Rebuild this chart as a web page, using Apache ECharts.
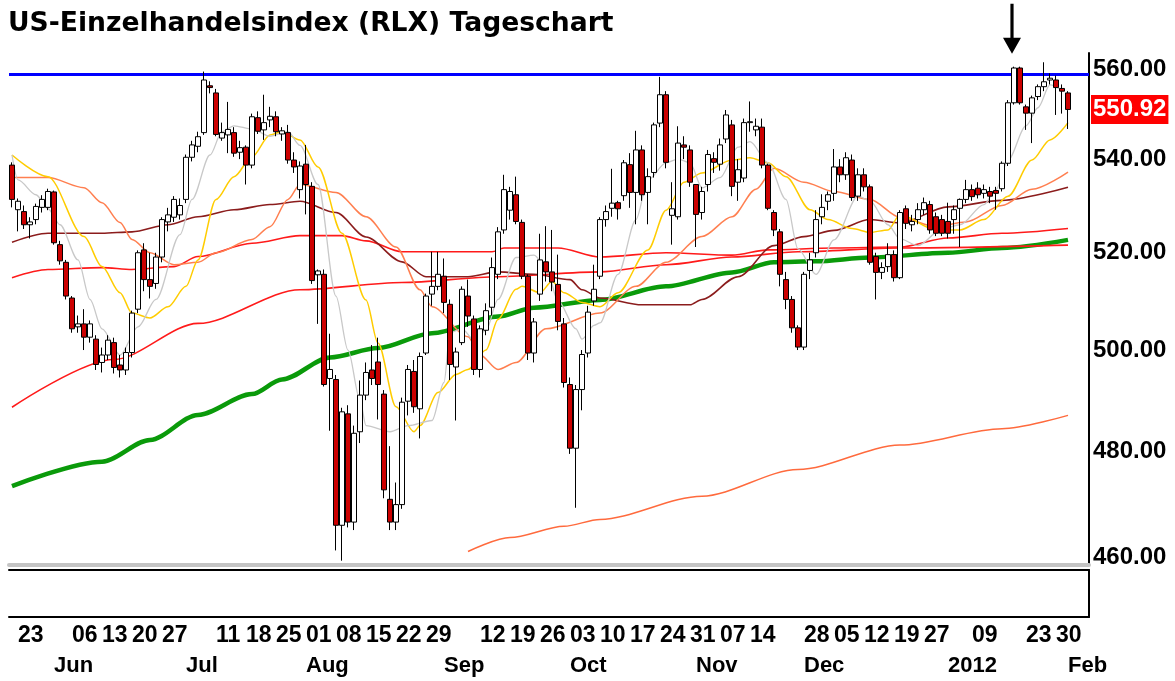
<!DOCTYPE html>
<html>
<head>
<meta charset="utf-8">
<script src="https://cdn.jsdelivr.net/npm/echarts@6/dist/echarts.min.js"></script>
<style>html,body{margin:0;padding:0;background:#fff;}#chart{width:1175px;height:681px;}</style>
</head>
<body>
<div id="chart"></div>
<script>
// ---- trading days (categories) ----
const dates = [
'2011-05-20','2011-05-23','2011-05-24','2011-05-25','2011-05-26','2011-05-27','2011-05-31',
'2011-06-01','2011-06-02','2011-06-03','2011-06-06','2011-06-07','2011-06-08','2011-06-09','2011-06-10','2011-06-13','2011-06-14','2011-06-15','2011-06-16','2011-06-17','2011-06-20','2011-06-21','2011-06-22','2011-06-23','2011-06-24','2011-06-27','2011-06-28','2011-06-29','2011-06-30',
'2011-07-01','2011-07-05','2011-07-06','2011-07-07','2011-07-08','2011-07-11','2011-07-12','2011-07-13','2011-07-14','2011-07-15','2011-07-18','2011-07-19','2011-07-20','2011-07-21','2011-07-22','2011-07-25','2011-07-26','2011-07-27','2011-07-28','2011-07-29',
'2011-08-01','2011-08-02','2011-08-03','2011-08-04','2011-08-05','2011-08-08','2011-08-09','2011-08-10','2011-08-11','2011-08-12','2011-08-15','2011-08-16','2011-08-17','2011-08-18','2011-08-19','2011-08-22','2011-08-23','2011-08-24','2011-08-25','2011-08-26','2011-08-29','2011-08-30','2011-08-31',
'2011-09-01','2011-09-02','2011-09-06','2011-09-07','2011-09-08','2011-09-09','2011-09-12','2011-09-13','2011-09-14','2011-09-15','2011-09-16','2011-09-19','2011-09-20','2011-09-21','2011-09-22','2011-09-23','2011-09-26','2011-09-27','2011-09-28','2011-09-29','2011-09-30',
'2011-10-03','2011-10-04','2011-10-05','2011-10-06','2011-10-07','2011-10-10','2011-10-11','2011-10-12','2011-10-13','2011-10-14','2011-10-17','2011-10-18','2011-10-19','2011-10-20','2011-10-21','2011-10-24','2011-10-25','2011-10-26','2011-10-27','2011-10-28','2011-10-31',
'2011-11-01','2011-11-02','2011-11-03','2011-11-04','2011-11-07','2011-11-08','2011-11-09','2011-11-10','2011-11-11','2011-11-14','2011-11-15','2011-11-16','2011-11-17','2011-11-18','2011-11-21','2011-11-22','2011-11-23','2011-11-25','2011-11-28','2011-11-29','2011-11-30',
'2011-12-01','2011-12-02','2011-12-05','2011-12-06','2011-12-07','2011-12-08','2011-12-09','2011-12-12','2011-12-13','2011-12-14','2011-12-15','2011-12-16','2011-12-19','2011-12-20','2011-12-21','2011-12-22','2011-12-23','2011-12-27','2011-12-28','2011-12-29','2011-12-30',
'2012-01-03','2012-01-04','2012-01-05','2012-01-06','2012-01-09','2012-01-10','2012-01-11','2012-01-12','2012-01-13','2012-01-17','2012-01-18','2012-01-19','2012-01-20','2012-01-23','2012-01-24','2012-01-25','2012-01-26','2012-01-27','2012-01-30','2012-01-31',
'2012-02-01'
];
const padCategories = ['pad1','pad2','pad3'];

// ---- OHLC ----
const opens = [538.7,529.1,528.7,525.9,527.0,529.6,529.6,532.9,521.7,518.0,510.6,504.7,505.3,502.6,502.2,497.5,499.0,501.5,497.0,496.0,
499.5,508.3,520.6,514.4,513.6,519.1,526.5,527.5,528.0,531.3,540.4,542.8,545.8,556.2,554.6,544.6,545.3,545.8,541.5,542.6,
538.7,549.1,546.4,548.6,549.3,545.5,545.8,539.8,533.4,538.9,534.1,515.4,515.5,494.3,494.1,465.9,487.3,466.5,483.8,491.0,
496.0,497.6,491.2,470.8,466.5,469.8,489.8,495.7,488.3,499.4,511.4,513.0,515.1,509.3,496.6,501.5,511.0,506.3,496.1,504.0,
508.7,515.5,524.8,529.0,532.3,526.4,515.1,499.4,511.4,518.1,516.0,513.4,505.3,493.1,480.6,492.1,499.4,510.0,515.1,527.0,
529.4,530.6,532.1,538.8,532.8,542.0,532.8,537.1,547.9,554.2,527.9,527.6,543.1,542.0,534.5,528.5,534.5,540.1,538.9,544.4,
547.5,535.0,535.9,548.0,546.4,547.0,538.7,528.5,524.4,514.4,510.3,504.5,500.6,516.3,520.0,527.6,530.9,532.6,538.3,536.6,
539.8,532.0,536.6,534.0,519.2,515.9,517.1,519.6,514.8,529.3,525.9,527.0,529.1,530.2,527.6,527.0,526.6,527.0,529.4,531.3,
533.4,533.7,532.6,533.0,533.2,533.6,539.1,552.4,560.2,551.5,550.1,553.8,556.0,557.5,557.5,555.6,554.6];
const closes = [531.3,530.9,525.9,526.5,529.8,531.3,533.0,522.1,518.3,511.0,504.3,505.3,502.6,505.3,497.1,499.0,502.0,496.5,496.0,499.5,
507.5,520.0,514.4,513.0,519.1,527.0,528.0,531.3,530.0,540.4,543.1,544.9,557.5,555.8,545.4,545.8,546.5,541.3,542.5,538.7,
549.3,546.1,548.0,549.4,546.0,546.2,539.8,538.3,538.5,534.5,514.2,516.2,493.1,496.1,465.9,487.7,466.5,483.5,491.0,495.5,
494.3,493.1,472.6,466.5,469.8,489.6,496.1,488.7,498.7,511.0,513.0,515.5,509.7,497.1,499.6,512.4,506.9,496.1,504.3,508.0,
516.9,524.4,533.4,533.0,526.6,515.1,499.4,505.7,518.5,516.0,513.9,505.8,493.5,480.6,492.1,499.1,507.7,512.4,527.0,528.7,
530.5,529.3,539.2,532.8,542.0,532.3,536.2,547.5,554.2,539.3,529.3,543.5,542.6,535.0,528.1,533.0,541.0,539.3,543.1,549.7,
534.1,537.7,548.0,548.2,547.2,538.7,529.4,524.8,515.5,510.3,504.5,500.6,515.5,518.5,527.0,529.6,532.3,538.3,536.6,540.3,
531.7,536.6,534.0,518.0,515.9,516.9,519.6,514.8,528.5,526.2,526.6,529.1,530.6,524.8,524.1,524.1,524.1,529.1,531.3,533.4,
531.9,532.3,533.4,532.0,532.6,539.1,552.4,560.2,552.4,550.1,553.5,556.0,557.1,557.9,555.8,555.0,550.92];
const lows = [529.6,524.5,525.0,523.0,526.0,528.5,529.0,521.7,517.5,510.3,503.5,503.5,500.0,501.5,496.0,495.5,498.0,495.3,494.5,495.0,
498.5,507.5,512.0,510.5,512.5,518.0,524.5,526.5,527.0,530.5,539.5,541.5,545.3,554.5,545.0,544.0,541.3,540.5,540.0,534.5,
538.0,545.5,544.2,547.0,545.0,544.0,539.0,537.0,531.5,528.1,513.5,505.3,492.7,484.0,461.2,459.3,465.5,465.0,481.6,490.0,
493.0,486.2,471.0,465.0,465.0,469.0,487.0,487.5,482.5,499.0,509.0,512.2,507.5,494.0,486.0,501.0,504.7,495.0,494.5,503.0,
507.0,514.5,524.0,527.0,526.0,514.5,498.0,497.5,510.0,514.0,512.0,504.0,492.5,479.5,469.2,488.0,498.5,509.0,514.5,525.5,
527.6,527.0,531.0,529.5,526.0,531.0,526.0,536.0,547.0,538.0,521.7,527.0,540.0,534.0,521.2,527.0,533.0,537.0,537.5,543.5,
532.0,531.0,535.0,546.0,545.0,538.0,529.0,523.5,513.0,508.3,503.5,500.0,500.0,514.5,519.0,526.0,529.0,531.0,535.0,535.5,
531.0,531.0,533.0,517.5,510.3,514.5,516.0,514.0,514.5,525.0,524.5,526.0,528.0,524.0,523.5,523.5,523.0,524.0,521.2,530.5,
531.0,531.5,531.5,530.5,529.1,533.0,538.5,552.0,552.0,546.4,543.5,553.0,555.0,556.5,549.7,550.0,546.6];
const highs = [539.3,531.5,530.0,527.5,530.4,532.2,533.6,533.2,522.5,518.5,511.0,507.0,508.3,506.0,503.0,500.5,503.0,502.5,499.0,500.5,
508.0,520.5,522.0,520.0,520.0,527.5,529.5,532.0,531.5,541.0,544.0,546.0,559.4,557.2,555.5,548.0,552.6,547.0,544.0,543.0,
550.0,550.5,554.2,551.5,550.5,547.0,547.5,541.5,539.5,543.1,535.0,516.5,516.5,503.3,495.0,488.5,489.0,485.0,493.9,497.5,
501.0,502.5,492.0,481.0,474.0,490.5,497.0,498.0,499.5,511.5,520.2,520.2,518.8,510.3,500.5,513.0,514.4,507.0,505.0,509.5,
519.0,525.4,536.6,534.0,536.2,527.0,515.5,506.5,524.0,525.6,524.8,519.6,506.5,494.5,493.0,500.0,509.0,517.5,527.5,530.0,
537.9,531.0,539.8,541.3,546.2,543.0,538.0,548.0,558.2,555.0,535.0,547.2,545.0,543.0,534.5,534.0,542.0,541.5,544.5,550.8,
548.6,540.0,548.9,552.7,548.9,548.9,539.0,529.0,525.0,516.0,511.0,505.0,516.0,520.0,529.0,532.4,533.0,542.2,540.0,541.5,
541.0,538.0,538.0,534.5,520.0,518.0,522.0,520.5,529.0,530.0,528.0,530.5,531.7,531.0,528.5,528.0,530.6,530.0,531.5,535.5,
534.5,535.0,534.5,534.0,534.0,539.5,553.0,560.5,560.5,552.0,554.0,556.5,561.5,559.0,558.5,556.5,555.0];

// ---- moving averages: [dayIndex, value] ----
const maGrey = [[0,540.9],[1,535.5],[4,532.3],[6,529.3],[8,525.9],[11,518.5],[13,510.3],[15,504.3],[18,499.0],[21,504.7],[24,510.3],[28,523.8],[30,531.3],[33,540.9],[35,546.0],[37,547.3],[40,546.6],[43,545.0],[46,546.0],[48,543.0],[51,534.5],[54,511.0],[56,500.0],[58,490.0],[59,485.0],[63,483.8],[66,485.0],[70,486.0],[72,493.5],[73,503.5],[75,504.3],[77,502.0],[79,504.0],[81,510.3],[84,519.0],[87,519.5],[89,517.0],[91,510.0],[94,504.3],[95,502.2],[97,505.0],[98,505.5],[101,515.5],[104,527.0],[106,535.5],[109,539.2],[111,540.0],[113,539.2],[115,533.8],[118,536.0],[121,542.6],[123,543.8],[126,539.2],[129,531.3],[131,520.8],[134,515.5],[137,522.7],[141,532.0],[143,531.0],[146,525.9],[148,522.9],[151,521.5],[155,525.0],[158,525.9],[162,530.2],[164,533.4],[166,539.8],[169,547.3],[171,551.3],[173,556.4],[175,555.2]];
const maYellow = [[0,540.9],[6,536.2],[12,523.4],[15,517.1],[18,511.7],[20,507.5],[23,506.5],[26,508.8],[29,513.0],[31,518.5],[34,531.3],[37,536.2],[40,540.5],[43,545.3],[45,546.0],[48,544.2],[51,538.3],[55,524.1],[59,510.2],[61,501.4],[64,488.7],[67,483.8],[68,485.0],[71,491.5],[74,495.1],[76,496.1],[79,500.0],[81,506.2],[84,512.4],[85,513.0],[88,511.7],[90,514.0],[92,511.7],[95,509.7],[98,508.8],[101,511.7],[106,520.6],[109,529.0],[112,535.0],[115,537.0],[120,539.8],[123,540.3],[126,539.2],[129,536.2],[133,529.1],[136,527.0],[140,525.1],[143,524.3],[146,524.8],[148,528.0],[154,524.8],[158,524.8],[162,527.0],[166,532.0],[170,539.8],[173,544.2],[176,548.0]];
const maOrange = [[0,536.0],[6,536.0],[12,533.8],[15,530.6],[18,526.4],[20,522.8],[23,520.0],[27,517.5],[31,518.0],[34,520.0],[40,522.8],[43,525.5],[46,531.3],[48,534.5],[54,532.8],[59,527.6],[64,521.2],[68,512.3],[70,508.8],[76,502.7],[78,499.0],[81,496.1],[84,497.5],[89,504.3],[98,507.5],[104,513.0],[109,518.0],[115,523.4],[120,527.6],[124,533.5],[127,538.0],[132,535.0],[137,533.0],[143,531.3],[148,527.5],[154,525.5],[159,526.5],[165,530.0],[170,533.5],[176,537.2]];
const maBrown = [[0,522.2],[6,524.1],[15,524.1],[20,524.4],[26,525.9],[31,527.6],[37,529.1],[43,530.2],[48,530.9],[54,528.5],[59,523.3],[65,518.1],[69,515.0],[76,515.0],[81,516.0],[87,515.5],[93,514.4],[95,512.3],[98,510.6],[105,509.2],[113,509.2],[115,510.3],[121,515.0],[127,521.5],[132,523.4],[137,524.7],[143,527.0],[148,526.3],[156,529.7],[165,531.1],[176,533.9]];
const maRedUpper = [[0,514.8],[6,516.5],[15,516.9],[20,516.5],[27,517.1],[31,519.2],[40,522.0],[48,523.6],[55,523.6],[59,522.5],[65,520.2],[80,520.2],[82,521.0],[91,521.0],[98,519.1],[109,520.0],[120,519.5],[126,520.6],[137,521.0],[148,521.2],[156,523.1],[165,524.1],[176,525.1]];
const maRedLower = [[0,488.6],[17,498.1],[31,505.4],[48,512.3],[65,513.8],[81,515.0],[98,516.0],[109,517.5],[120,519.1],[131,520.2],[148,521.0],[176,521.6]];
const maGreen = [[0,473.3],[15,478.0],[23,482.2],[31,487.1],[40,491.2],[45,494.1],[53,498.5],[61,500.4],[70,503.4],[81,506.8],[87,508.6],[98,510.2],[109,513.0],[120,515.9],[127,518.0],[134,518.2],[143,519.0],[156,520.0],[165,521.0],[176,522.7]];
const maLong = [[76,461.0],[83,463.6],[92,465.7],[98,467.0],[115,471.4],[131,476.5],[148,481.2],[165,484.4],[176,487.0]];

// ---- levels / labels ----
const resistance = 558.8;
const lastPrice = 550.92;
const arrowDay = 167;
const yTickValues = [560, 540, 520, 500, 480, 460];
const dayLabelDates = ['2011-05-23','2011-06-06','2011-06-13','2011-06-20','2011-06-27','2011-07-11','2011-07-18','2011-07-25',
'2011-08-01','2011-08-08','2011-08-15','2011-08-22','2011-08-29','2011-09-12','2011-09-19','2011-09-26','2011-10-03','2011-10-10',
'2011-10-17','2011-10-24','2011-10-31','2011-11-07','2011-11-14','2011-11-28','2011-12-05','2011-12-12','2011-12-19','2011-12-27',
'2012-01-09','2012-01-23','2012-01-30'];
const monthLabelDates = ['2011-06-01','2011-07-01','2011-08-01','2011-09-01','2011-10-03','2011-11-01','2011-11-28','2012-01-03','2012-02-01'];
const monthLabelTexts = ['Jun','Jul','Aug','Sep','Oct','Nov','Dec','2012','Feb'];

const categories = dates.concat(padCategories);
const candleData = dates.map((d, i) => [opens[i], closes[i], lows[i], highs[i]]);

const chart = echarts.init(document.getElementById('chart'), null, {renderer: 'canvas'});
const labelFont = {fontFamily: 'Liberation Sans', fontWeight: 'bold', color: '#000'};
const hiddenLine = {color: 'rgba(0,0,0,0)', width: 0, opacity: 1};
function maSeries(name, data, color, width) {
  return {name, type: 'line', data, xAxisIndex: 0, yAxisIndex: 0, symbol: 'none', silent: true,
    smooth: 0.3, smoothMonotone: 'x', lineStyle: {color, width}, z: 2};
}
const option = {
  animation: false,
  backgroundColor: '#fff',
  title: {text: 'US-Einzelhandelsindex (RLX) Tageschart', left: 8, top: 11, padding: 0,
    textStyle: {fontFamily: 'DejaVu Sans', fontWeight: 'bold', fontSize: 26.6, color: '#000'}},
  grid: [
    {left: 9, right: 86, top: 53, bottom: 116},
    {left: 9, right: 86, top: 570, bottom: 64}
  ],
  xAxis: [
    {type: 'category', gridIndex: 0, data: categories, boundaryGap: true,
      axisLine: {show: true, onZero: false, lineStyle: {color: '#c4c4c4', width: 4}},
      axisTick: {show: false}, axisLabel: {show: false}, splitLine: {show: false}},
    {type: 'category', gridIndex: 1, data: categories, boundaryGap: true, position: 'bottom',
      axisLine: {show: true, onZero: false, lineStyle: {color: '#000', width: 2}},
      axisTick: {show: false},
      axisLabel: Object.assign({show: true, fontSize: 23, align: 'left', margin: 7,
        interval: (idx, val) => dayLabelDates.indexOf(val) >= 0,
        formatter: v => v.slice(8)}, labelFont)},
    {type: 'category', gridIndex: 1, data: categories, boundaryGap: true, position: 'bottom', offset: 30,
      axisLine: {show: false}, axisTick: {show: false},
      axisLabel: Object.assign({show: true, fontSize: 22, align: 'left', margin: 8,
        interval: (idx, val) => monthLabelDates.indexOf(val) >= 0,
        formatter: v => { const k = monthLabelDates.indexOf(v); return k >= 0 ? monthLabelTexts[k] : ''; }}, labelFont)},
    {type: 'category', gridIndex: 1, data: categories, boundaryGap: true, position: 'top',
      axisLine: {show: true, onZero: false, lineStyle: {color: '#000', width: 2}},
      axisTick: {show: false}, axisLabel: {show: false}}
  ],
  yAxis: [
    {type: 'log', logBase: 10, gridIndex: 0, min: 458.5, max: 563.6, position: 'right',
      axisLine: {show: true, onZero: false, lineStyle: {color: '#000', width: 2}},
      axisTick: {show: false}, axisLabel: {show: false}, splitLine: {show: false}},
    {type: 'value', gridIndex: 1, position: 'right', min: 0, max: 1,
      axisLine: {show: true, onZero: false, lineStyle: {color: '#000', width: 2}},
      axisTick: {show: false}, axisLabel: {show: false}, splitLine: {show: false}}
  ],
  series: [
    maSeries('MA long', maLong, '#ff6a3d', 1.5),
    maSeries('MA green', maGreen, '#0a9a0a', 4.5),
    maSeries('MA red lower', maRedLower, '#ff1a1a', 1.6),
    maSeries('MA red upper', maRedUpper, '#ff1a1a', 1.6),
    maSeries('MA brown', maBrown, '#8b1c1c', 1.6),
    maSeries('MA orange', maOrange, '#ff7f50', 1.5),
    maSeries('MA yellow', maYellow, '#ffcc00', 1.5),
    maSeries('MA grey', maGrey, '#c8c8c8', 1.3),
    {
      name: 'RLX', type: 'candlestick', xAxisIndex: 0, yAxisIndex: 0, data: candleData, z: 5,
      barWidth: 5, silent: true,
      itemStyle: {color: '#ffffff', color0: '#cc0000', borderColor: '#000', borderColor0: '#000', borderWidth: 1},
      markLine: {
        silent: true, symbol: ['none', 'none'], animation: false,
        data: [
          {yAxis: resistance, lineStyle: {color: '#0000ff', width: 3, type: 'solid', opacity: 1}, label: {show: false}}
        ].concat(yTickValues.map(v => ({yAxis: v, lineStyle: hiddenLine,
          label: Object.assign({show: true, position: 'end', distance: 4, fontSize: 24, opacity: 1, formatter: v.toFixed(2)}, labelFont)})))
         .concat([{yAxis: lastPrice, lineStyle: hiddenLine,
          label: {show: true, position: 'end', distance: 2, fontSize: 24, opacity: 1, fontFamily: 'Liberation Sans', fontWeight: 'bold',
            color: '#fff', backgroundColor: '#ff0000', padding: [3, 2, 2, 2], formatter: lastPrice.toFixed(2)}}])
      },
      markPoint: {
        silent: true, animation: false,
        data: [{coord: [arrowDay, highs[arrowDay]],
          symbol: 'path://M8,0 L11,0 L11,34 L18,34 L9.5,50 L1,34 L8,34 Z',
          symbolSize: [18, 50], symbolKeepAspect: false, symbolOffset: [-2, -38],
          itemStyle: {color: '#000'}, label: {show: false}}]
      }
    }
  ]
};
chart.setOption(option);
</script>
</body>
</html>
